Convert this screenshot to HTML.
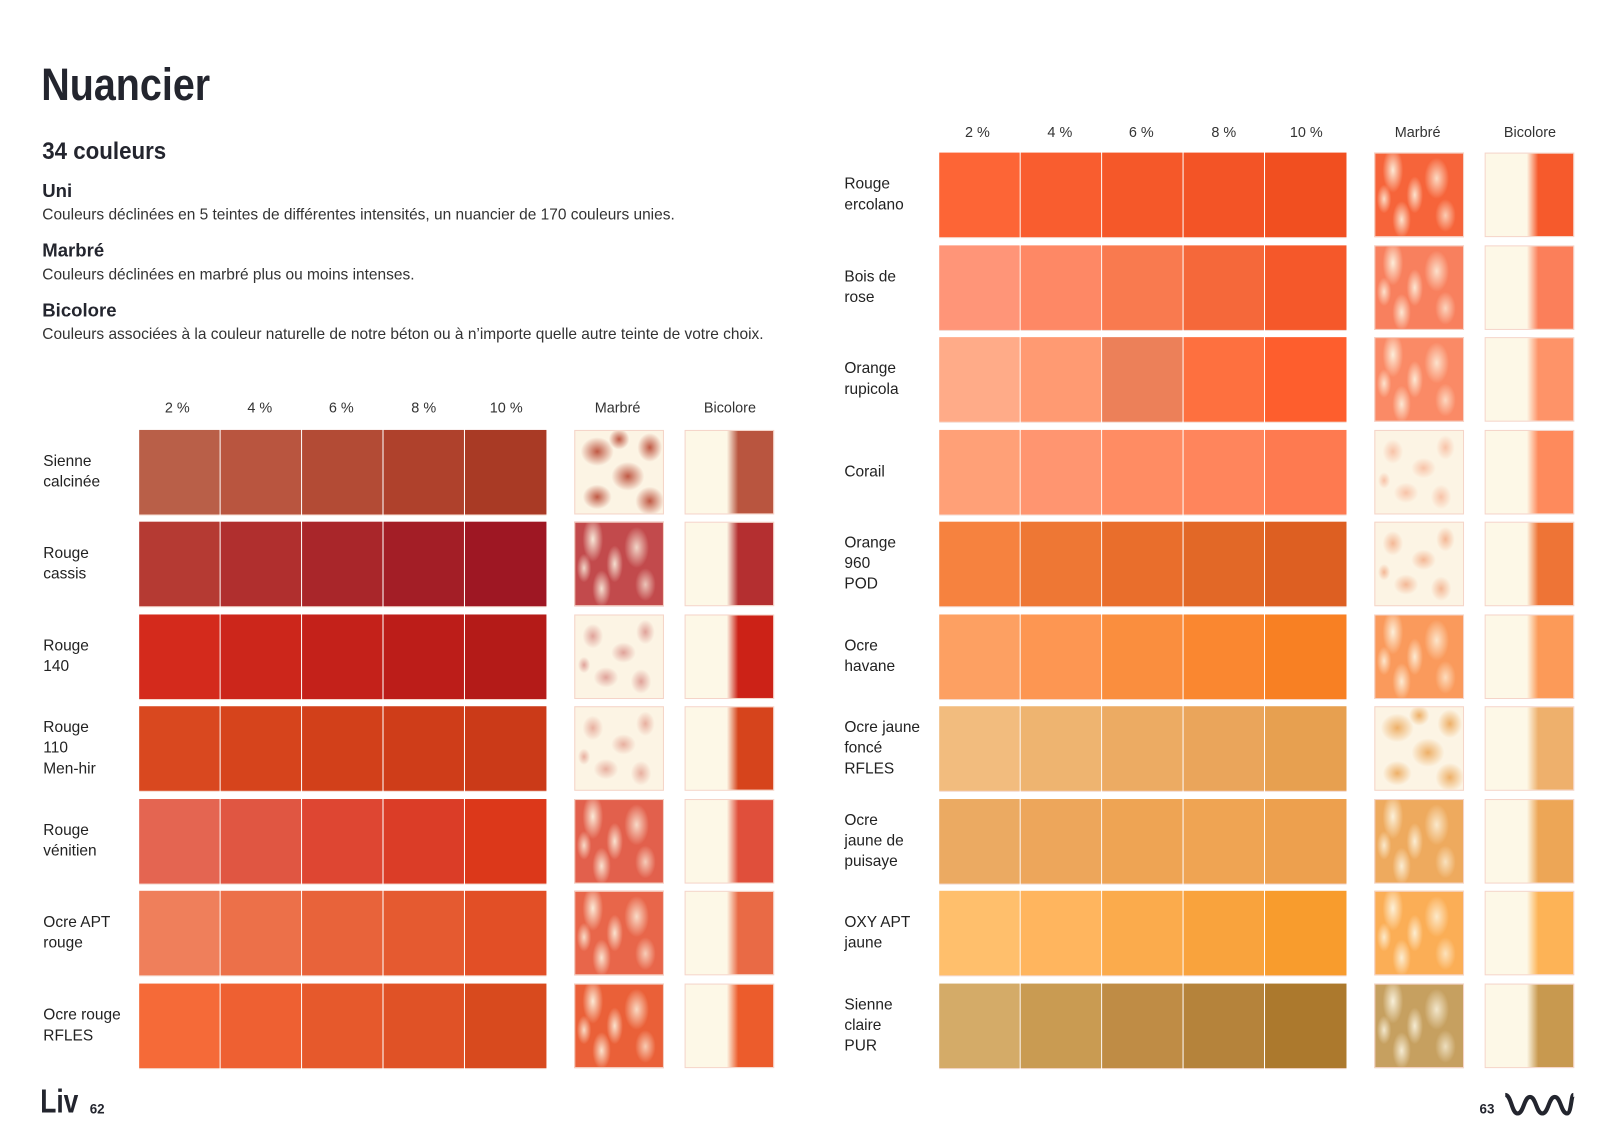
<!DOCTYPE html>
<html><head><meta charset="utf-8">
<style>
html,body{margin:0;padding:0;background:#fff;}
body{width:1615px;height:1148px;overflow:hidden;position:relative;}
#w{position:absolute;left:0;top:0;width:1560px;height:1109px;transform:scale(1.031);transform-origin:0 0;font-family:"Liberation Sans",sans-serif;color:#2a2a30;}
.a{position:absolute;white-space:nowrap;}
.title{font-weight:bold;font-size:44px;left:40px;top:58px;color:#23252e;transform:scaleX(0.87);transform-origin:0 0;}
.h2{font-weight:bold;font-size:23px;left:41px;top:133px;color:#23252e;transform:scaleX(0.94);transform-origin:0 0;}
.h3{font-weight:bold;font-size:18px;left:41px;color:#23252e;}
.p{font-size:15px;left:41px;color:#333;}
.hd{font-size:14px;color:#333;transform:translateX(-50%);}
.row{position:absolute;height:82px;width:700px;}
.lab{position:absolute;left:0;top:0;height:82px;display:flex;align-items:center;font-size:15px;line-height:20px;color:#222;white-space:nowrap;}
.c{position:absolute;top:0;height:82px;width:78px;box-shadow:0 1px 0 #f4d9cf;}
.m,.b{position:absolute;top:0;height:80px;width:85px;border:1px solid #f5d4c8;}
.m{left:515px;}
.b{left:622px;}
.dk{background:
 radial-gradient(ellipse 10px 22px at 20% 20%,rgba(253,248,230,.9),transparent),
 radial-gradient(ellipse 8px 18px at 45% 50%,rgba(253,248,230,.85),transparent),
 radial-gradient(ellipse 12px 20px at 70% 30%,rgba(253,248,230,.8),transparent),
 radial-gradient(ellipse 9px 18px at 30% 80%,rgba(253,248,230,.85),transparent),
 radial-gradient(ellipse 10px 16px at 80% 75%,rgba(253,248,230,.7),transparent),
 radial-gradient(ellipse 7px 14px at 10% 55%,rgba(253,248,230,.8),transparent),
 var(--k);}
.lt{background:
 radial-gradient(ellipse 10px 12px at 20% 25%,var(--k),transparent),
 radial-gradient(ellipse 12px 10px at 55% 45%,var(--k),transparent),
 radial-gradient(ellipse 9px 12px at 80% 20%,var(--k),transparent),
 radial-gradient(ellipse 12px 10px at 35% 75%,var(--k),transparent),
 radial-gradient(ellipse 10px 12px at 75% 80%,var(--k),transparent),
 radial-gradient(ellipse 6px 8px at 10% 60%,var(--k),transparent),
 #fcf4e4;}
.md{background:
 radial-gradient(ellipse 16px 14px at 25% 25%,var(--k),transparent),
 radial-gradient(ellipse 16px 14px at 60% 55%,var(--k),transparent),
 radial-gradient(ellipse 12px 14px at 85% 20%,var(--k),transparent),
 radial-gradient(ellipse 14px 12px at 25% 80%,var(--k),transparent),
 radial-gradient(ellipse 14px 14px at 85% 85%,var(--k),transparent),
 radial-gradient(ellipse 10px 10px at 50% 10%,var(--k),transparent),
 #fcf4e4;}
.b{background:linear-gradient(90deg,#fdf8e7 47%,var(--k) 60%);}
</style></head><body><div id="w">
<div class="a title">Nuancier</div>
<div class="a h2">34 couleurs</div>
<div class="a h3" style="top:175px">Uni</div>
<div class="a p" style="top:200px">Couleurs déclinées en 5 teintes de différentes intensités, un nuancier de 170 couleurs unies.</div>
<div class="a h3" style="top:233px">Marbré</div>
<div class="a p" style="top:258px">Couleurs déclinées en marbré plus ou moins intenses.</div>
<div class="a h3" style="top:291px">Bicolore</div>
<div class="a p" style="top:316px">Couleurs associées à la couleur naturelle de notre béton ou à n’importe quelle autre teinte de votre choix.</div>

<div class="a hd" style="left:172px;top:387px">2 %</div>
<div class="a hd" style="left:252px;top:387px">4 %</div>
<div class="a hd" style="left:331px;top:387px">6 %</div>
<div class="a hd" style="left:411px;top:387px">8 %</div>
<div class="a hd" style="left:491px;top:387px">10 %</div>
<div class="a hd" style="left:599px;top:387px">Marbré</div>
<div class="a hd" style="left:708px;top:387px">Bicolore</div>

<div class="a hd" style="left:948px;top:120px">2 %</div>
<div class="a hd" style="left:1028px;top:120px">4 %</div>
<div class="a hd" style="left:1107px;top:120px">6 %</div>
<div class="a hd" style="left:1187px;top:120px">8 %</div>
<div class="a hd" style="left:1267px;top:120px">10 %</div>
<div class="a hd" style="left:1375px;top:120px">Marbré</div>
<div class="a hd" style="left:1484px;top:120px">Bicolore</div>

<!-- LEFT -->
<div class="row" style="left:42px;top:417px"><div class="lab">Sienne<br>calcinée</div>
<div class="c" style="left:93px;background:#b95f48"></div><div class="c" style="left:172px;background:#b9553f"></div><div class="c" style="left:251px;background:#b34b35"></div><div class="c" style="left:330px;background:#af412c"></div><div class="c" style="left:409px;width:79px;background:#a93a25"></div>
<div class="m md" style="--k:#c05a45"></div><div class="b" style="--k:#b9553f"></div></div>

<div class="row" style="left:42px;top:506px"><div class="lab">Rouge<br>cassis</div>
<div class="c" style="left:93px;background:#b53a33"></div><div class="c" style="left:172px;background:#b02f2e"></div><div class="c" style="left:251px;background:#a9262a"></div><div class="c" style="left:330px;background:#a31e26"></div><div class="c" style="left:409px;width:79px;background:#9e1723"></div>
<div class="m dk" style="--k:#c24a4c"></div><div class="b" style="--k:#b42f30"></div></div>

<div class="row" style="left:42px;top:596px"><div class="lab">Rouge<br>140</div>
<div class="c" style="left:93px;background:#d42a1c"></div><div class="c" style="left:172px;background:#cc261b"></div><div class="c" style="left:251px;background:#c4211a"></div><div class="c" style="left:330px;background:#bc1d19"></div><div class="c" style="left:409px;width:79px;background:#b41b18"></div>
<div class="m lt" style="--k:#e0a39a"></div><div class="b" style="--k:#cc2217"></div></div>

<div class="row" style="left:42px;top:685px"><div class="lab">Rouge<br>110<br>Men-hir</div>
<div class="c" style="left:93px;background:#d9481f"></div><div class="c" style="left:172px;background:#d6441c"></div><div class="c" style="left:251px;background:#d2401a"></div><div class="c" style="left:330px;background:#cf3d19"></div><div class="c" style="left:409px;width:79px;background:#cb3a18"></div>
<div class="m lt" style="--k:#e8b0a0"></div><div class="b" style="--k:#d6441c"></div></div>

<div class="row" style="left:42px;top:775px"><div class="lab">Rouge<br>vénitien</div>
<div class="c" style="left:93px;background:#e46551"></div><div class="c" style="left:172px;background:#e05642"></div><div class="c" style="left:251px;background:#de4632"></div><div class="c" style="left:330px;background:#db3d27"></div><div class="c" style="left:409px;width:79px;background:#dc381a"></div>
<div class="m dk" style="--k:#e2604c"></div><div class="b" style="--k:#e04f3b"></div></div>

<div class="row" style="left:42px;top:864px"><div class="lab">Ocre APT<br>rouge</div>
<div class="c" style="left:93px;background:#ef7f5b"></div><div class="c" style="left:172px;background:#ec7049"></div><div class="c" style="left:251px;background:#e8633a"></div><div class="c" style="left:330px;background:#e55a30"></div><div class="c" style="left:409px;width:79px;background:#e24f26"></div>
<div class="m dk" style="--k:#e8664a"></div><div class="b" style="--k:#e96a45"></div></div>

<div class="row" style="left:42px;top:954px"><div class="lab">Ocre rouge<br>RFLES</div>
<div class="c" style="left:93px;background:#f56a38"></div><div class="c" style="left:172px;background:#ee6032"></div><div class="c" style="left:251px;background:#e6592c"></div><div class="c" style="left:330px;background:#e05226"></div><div class="c" style="left:409px;width:79px;background:#d84a1e"></div>
<div class="m dk" style="--k:#ea6038"></div><div class="b" style="--k:#ec5c2c"></div></div>

<!-- RIGHT -->
<div class="row" style="left:819px;top:148px"><div class="lab">Rouge<br>ercolano</div>
<div class="c" style="left:92px;background:#fd6536"></div><div class="c" style="left:171px;background:#f95d2f"></div><div class="c" style="left:250px;background:#f55829"></div><div class="c" style="left:329px;background:#f35426"></div><div class="c" style="left:408px;width:79px;background:#f14f20"></div>
<div class="m dk" style="--k:#f6643a;left:514px"></div><div class="b" style="--k:#f65a2c;left:621px"></div></div>

<div class="row" style="left:819px;top:238px"><div class="lab">Bois de<br>rose</div>
<div class="c" style="left:92px;background:#ff9578"></div><div class="c" style="left:171px;background:#fe8865"></div><div class="c" style="left:250px;background:#f97a4f"></div><div class="c" style="left:329px;background:#f5683a"></div><div class="c" style="left:408px;width:79px;background:#f5582a"></div>
<div class="m dk" style="--k:#f8805e;left:514px"></div><div class="b" style="--k:#fb7f5a;left:621px"></div></div>

<div class="row" style="left:819px;top:327px"><div class="lab">Orange<br>rupicola</div>
<div class="c" style="left:92px;background:#ffab88"></div><div class="c" style="left:171px;background:#ff9a72"></div><div class="c" style="left:250px;background:#ec8059"></div><div class="c" style="left:329px;background:#fe703f"></div><div class="c" style="left:408px;width:79px;background:#fe5e2d"></div>
<div class="m dk" style="--k:#fa8a66;left:514px"></div><div class="b" style="--k:#fe9368;left:621px"></div></div>

<div class="row" style="left:819px;top:417px"><div class="lab">Corail</div>
<div class="c" style="left:92px;background:#ffa077"></div><div class="c" style="left:171px;background:#ff9570"></div><div class="c" style="left:250px;background:#ff8c63"></div><div class="c" style="left:329px;background:#ff855c"></div><div class="c" style="left:408px;width:79px;background:#fe7a50"></div>
<div class="m lt" style="--k:#f8c3a8;left:514px"></div><div class="b" style="--k:#fe8a5c;left:621px"></div></div>

<div class="row" style="left:819px;top:506px"><div class="lab">Orange<br>960<br>POD</div>
<div class="c" style="left:92px;background:#f6823f"></div><div class="c" style="left:171px;background:#ee7734"></div><div class="c" style="left:250px;background:#e96e2c"></div><div class="c" style="left:329px;background:#e26827"></div><div class="c" style="left:408px;width:79px;background:#dd5f22"></div>
<div class="m lt" style="--k:#f4b896;left:514px"></div><div class="b" style="--k:#ee7436;left:621px"></div></div>

<div class="row" style="left:819px;top:596px"><div class="lab">Ocre<br>havane</div>
<div class="c" style="left:92px;background:#fda062"></div><div class="c" style="left:171px;background:#fd9652"></div><div class="c" style="left:250px;background:#fa8e3e"></div><div class="c" style="left:329px;background:#fa8730"></div><div class="c" style="left:408px;width:79px;background:#f88023"></div>
<div class="m dk" style="--k:#fa9a5c;left:514px"></div><div class="b" style="--k:#fc9a58;left:621px"></div></div>

<div class="row" style="left:819px;top:685px"><div class="lab">Ocre jaune<br>foncé<br>RFLES</div>
<div class="c" style="left:92px;background:#f2bc7e"></div><div class="c" style="left:171px;background:#eeb470"></div><div class="c" style="left:250px;background:#ecab63"></div><div class="c" style="left:329px;background:#eaa55b"></div><div class="c" style="left:408px;width:79px;background:#e7a050"></div>
<div class="m md" style="--k:#eeb068;left:514px"></div><div class="b" style="--k:#eeb06c;left:621px"></div></div>

<div class="row" style="left:819px;top:775px"><div class="lab">Ocre<br>jaune de<br>puisaye</div>
<div class="c" style="left:92px;background:#ebaa62"></div><div class="c" style="left:171px;background:#eda65b"></div><div class="c" style="left:250px;background:#eea454"></div><div class="c" style="left:329px;background:#efa453"></div><div class="c" style="left:408px;width:79px;background:#eda04e"></div>
<div class="m dk" style="--k:#eeaa5e;left:514px"></div><div class="b" style="--k:#eda656;left:621px"></div></div>

<div class="row" style="left:819px;top:864px"><div class="lab">OXY APT<br>jaune</div>
<div class="c" style="left:92px;background:#ffbf6c"></div><div class="c" style="left:171px;background:#ffb55e"></div><div class="c" style="left:250px;background:#fbab4c"></div><div class="c" style="left:329px;background:#f9a33d"></div><div class="c" style="left:408px;width:79px;background:#f89c2d"></div>
<div class="m dk" style="--k:#fbae56;left:514px"></div><div class="b" style="--k:#fdb356;left:621px"></div></div>

<div class="row" style="left:819px;top:954px"><div class="lab">Sienne<br>claire<br>PUR</div>
<div class="c" style="left:92px;background:#d4ab68"></div><div class="c" style="left:171px;background:#c99b52"></div><div class="c" style="left:250px;background:#bf8c45"></div><div class="c" style="left:329px;background:#b5833b"></div><div class="c" style="left:408px;width:79px;background:#ac792d"></div>
<div class="m dk" style="--k:#c6a060;left:514px"></div><div class="b" style="--k:#c8994f;left:621px"></div></div>

<!-- footer -->
<div class="a" style="left:39px;top:1050px;font-size:32px;font-weight:bold;color:#23252e;transform:scaleX(0.8);transform-origin:0 0">Liv</div>
<div class="a" style="left:87px;top:1068px;font-size:13px;font-weight:bold;color:#23252e">62</div>
<div class="a" style="left:1435px;top:1068px;font-size:13px;font-weight:bold;color:#23252e">63</div>
<svg class="a" style="left:1458px;top:1058px" width="70" height="26" viewBox="0 0 70 26"><path d="M2 4 C8 4 8 22 14 22 C20 22 20 6 26 6 C32 6 32 22 38 22 C44 22 44 6 50 6 C56 6 56 22 62 22 C66 22 66 4 68 4" fill="none" stroke="#23252e" stroke-width="4"/></svg>
</div></body></html>
